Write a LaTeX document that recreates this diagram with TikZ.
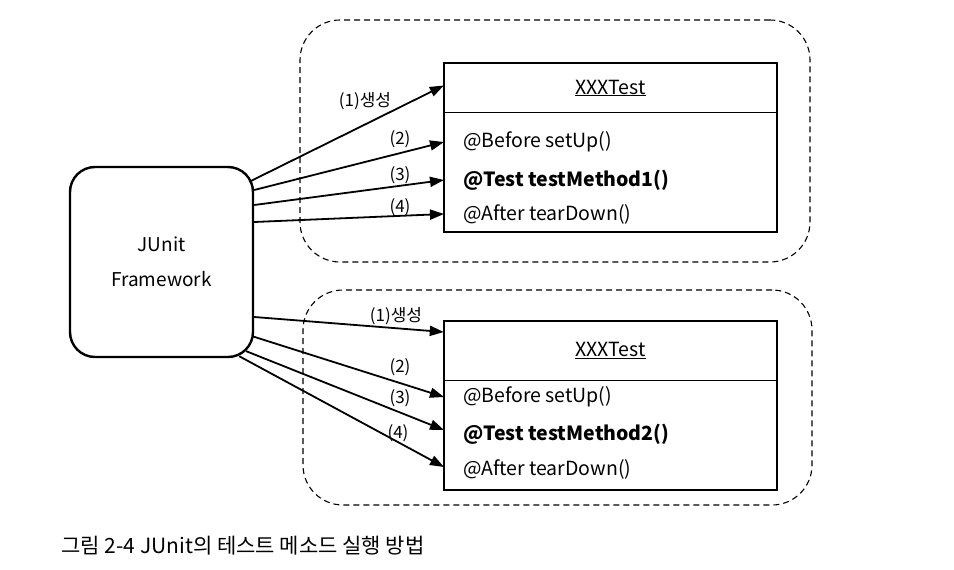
\documentclass[tikz,border=0pt]{standalone}
\usepackage{fontspec}
\setmainfont{Noto Sans CJK KR}
\usetikzlibrary{arrows.meta}

\tikzset{
  fwbox/.style={draw, line width=2.4pt, rounded corners=25pt, minimum width=183pt,
    minimum height=190pt, align=center, font=\fontsize{19}{35}\selectfont},
  grpbox/.style={draw, dashed, dash pattern=on 6pt off 4pt, line width=1.1pt, rounded corners=40pt},
  clsbox/.style={draw, line width=1.3pt, minimum width=333pt},
  clstitle/.style={minimum width=333pt, font=\fontsize{19.5}{22}\selectfont},
  row/.style={anchor=west, inner xsep=19pt, font=\fontsize{19.5}{22}\selectfont},
  call/.style={-{Triangle[length=14pt,width=10pt]}, line width=1.8pt},
  num/.style={font=\fontsize{17}{20}\selectfont},
}

\begin{document}
\begin{tikzpicture}[x=1pt, y=-1pt]

  \useasboundingbox (0,0) rectangle (954,570);

  % nodes
  \node[fwbox] (fw) at (161.5,262) {JUnit\\Framework};

  \node[grpbox, minimum width=510pt, minimum height=242pt] (g1) at (555,141) {};
  \node[clsbox, minimum height=169pt] (c1) at (610.5,147.5) {};
  \node[clstitle, minimum height=49pt] (t1) at (610.5,88) {\underline{XXXTest}};
  \draw[line width=1.3pt] (c1.west |- t1.south) -- (c1.east |- t1.south);
  \node[row] (r11) at (444,142) {@Before setUp()};
  \node[row] (r12) at (444,180) {\bfseries @Test testMethod1()};
  \node[row] (r13) at (444,214) {@After tearDown()};

  \node[grpbox, minimum width=509pt, minimum height=215pt] (g2) at (557.5,397.5) {};
  \node[clsbox, minimum height=169pt] (c2) at (610.5,405.5) {};
  \node[clstitle, minimum height=59pt] (t2) at (610.5,350.5) {\underline{XXXTest}};
  \draw[line width=1.3pt] (c2.west |- t2.south) -- (c2.east |- t2.south);
  \node[row] (r21) at (444,397) {@Before setUp()};
  \node[row] (r22) at (444,434) {\bfseries @Test testMethod2()};
  \node[row] (r23) at (444,469) {@After tearDown()};

  \node[anchor=west, font=\fontsize{21}{25}\selectfont] (cap) at (58,546) {그림 2-4 JUnit의 테스트 메소드 실행 방법};

  % arrows
  \draw[call] ([xshift=-5pt,yshift=-16pt]fw.north east) -- ([yshift=2.5pt]t1.west);
  \draw[call] ([yshift=72pt]fw.east) -- (r11.west);
  \draw[call] ([yshift=57pt]fw.east) -- (r12.west);
  \draw[call] ([yshift=40pt]fw.east) -- (r13.west);

  \draw[call] ([yshift=-55pt]fw.east) -- ([yshift=18.5pt]t2.west);
  \draw[call] ([xshift=-2pt,yshift=22pt]fw.south east) -- (r21.west);
  \draw[call] ([xshift=-8pt,yshift=7pt]fw.south east) -- ([yshift=4pt]r22.west);
  \draw[call] ([xshift=-15pt,yshift=2pt]fw.south east) -- ([yshift=2pt]r23.west);

  % labels
  \node[num] (n11) at (365,101) {(1)생성};
  \node[num] (n12) at (400,139) {(2)};
  \node[num] (n13) at (400,175) {(3)};
  \node[num] (n14) at (400,207) {(4)};
  \node[num] (n21) at (396,316) {(1)생성};
  \node[num] (n22) at (400,367) {(2)};
  \node[num] (n23) at (400,398) {(3)};
  \node[num] (n24) at (398,433) {(4)};

\end{tikzpicture}
\end{document}
